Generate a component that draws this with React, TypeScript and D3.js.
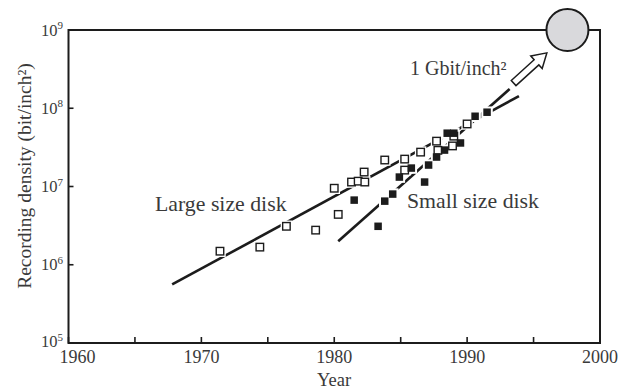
import React from "react";
import * as d3 from "d3";

const W = 628;
const H = 390;

// Axis ticks
const yearTicks = [1960, 1970, 1980, 1990, 2000];
const minorYearTicks = [1965, 1975, 1985, 1995];
const densityExponents = [5, 6, 7, 8, 9];

// Large size disk products (open squares)
const largeYears = [
  1971.4, 1974.4, 1976.4, 1978.6, 1980.0, 1980.3, 1981.3, 1981.8, 1982.3, 1982.25,
  1983.8, 1985.3, 1985.3, 1986.5, 1987.7, 1987.8, 1988.9, 1989.0, 1990.0,
];
const largeDensity = [
  1.49e6, 1.68e6, 3.1e6, 2.77e6, 9.5e6, 4.4e6, 1.14e7, 1.17e7, 1.14e7, 1.53e7,
  2.18e7, 2.24e7, 1.62e7, 2.75e7, 3.8e7, 2.9e7, 3.3e7, 4.4e7, 6.3e7,
];

// Small size disk products (filled squares)
const smallYears = [
  1981.5, 1983.3, 1983.8, 1984.4, 1984.9, 1985.8, 1986.8, 1987.1, 1987.7, 1988.3,
  1988.5, 1989.0, 1989.5, 1990.6, 1991.5,
];
const smallDensity = [
  6.7e6, 3.1e6, 6.5e6, 8.0e6, 1.32e7, 1.72e7, 1.14e7, 1.88e7, 2.38e7, 2.92e7,
  4.8e7, 4.8e7, 3.6e7, 7.9e7, 8.9e7,
];

// Trend lines
const largeTrendYears = [1967.8, 1993.9];
const largeTrendDensity = [5.6e5, 1.43e8];
const smallTrendYears = [1980.3, 1993.2];
const smallTrendDensity = [2.0e6, 1.76e8];

// 1 Gbit/inch² target and the arrow pointing at it
const targetYear = 1997.55;
const targetDensity = 1e9;
const arrowYears = [1993.5, 1996.0];
const arrowDensity = [2.1e8, 5.1e8];

const ink = "#1c1c1c";
const textInk = "#3a3a3a";
const font = "'Liberation Serif', 'Times New Roman', serif";

export default function App() {
  const x = d3.scaleLinear().domain([1960, 2000]).range([68.5, 600]);
  const y = d3.scaleLog().domain([1e5, 1e9]).range([343, 30]);

  const line = d3
    .line<[number, number]>()
    .x((d) => x(d[0]))
    .y((d) => y(d[1]));

  const largeTrend = largeTrendYears.map((t, i) => [t, largeTrendDensity[i]] as [number, number]);
  const smallTrend = smallTrendYears.map((t, i) => [t, smallTrendDensity[i]] as [number, number]);

  const ms = 7.5;
  const halo = 2;

  const large = largeYears.map((t, i) => ({ cx: x(t), cy: y(largeDensity[i]) }));
  const small = smallYears.map((t, i) => ({ cx: x(t), cy: y(smallDensity[i]) }));

  // Hollow block arrow
  const ax0 = x(arrowYears[0]);
  const ay0 = y(arrowDensity[0]);
  const ax1 = x(arrowYears[1]);
  const ay1 = y(arrowDensity[1]);
  const dx = ax1 - ax0;
  const dy = ay1 - ay0;
  const len = Math.hypot(dx, dy);
  const ux = dx / len;
  const uy = dy / len;
  const nx = -uy;
  const ny = ux;
  const shaftW = 3.5;
  const headW = 8.5;
  const headL = 14;
  const pt = (along: number, side: number) =>
    `${ax0 + ux * along + nx * side},${ay0 + uy * along + ny * side}`;
  const arrowPts = [
    pt(0, shaftW),
    pt(len - headL, shaftW),
    pt(len - headL, headW),
    pt(len, 0),
    pt(len - headL, -headW),
    pt(len - headL, -shaftW),
    pt(0, -shaftW),
  ].join(" ");

  const x0 = x(1960);
  const x1 = x(2000);
  const yTop = y(1e9);
  const yBot = y(1e5);

  return (
    <svg
      width={W}
      height={H}
      viewBox={`0 0 ${W} ${H}`}
      style={{ position: "absolute", left: 0, top: 0, background: "#fff" }}
      fontFamily={font}
    >
      <rect x={0} y={0} width={W} height={H} fill="#fff" />

      {/* frame */}
      <rect x={x0} y={yTop} width={x1 - x0} height={yBot - yTop} fill="none" stroke={ink} strokeWidth={2} />

      {/* x ticks */}
      {[...yearTicks, ...minorYearTicks].map((t) => (
        <line key={`xt${t}`} x1={x(t)} x2={x(t)} y1={yBot} y2={yBot - 6} stroke={ink} strokeWidth={1.6} />
      ))}
      {yearTicks.map((t, i) => (
        <text
          key={`xl${t}`}
          x={x(t) + (i === 0 ? 9 : 0)}
          y={363}
          textAnchor="middle"
          fontSize={18}
          fill={textInk}
        >
          {t}
        </text>
      ))}

      {/* y ticks */}
      {densityExponents.map((e, i) => (
        <g key={`yt${e}`}>
          <line x1={x0} x2={x0 + 5} y1={y(10 ** e)} y2={y(10 ** e)} stroke={ink} strokeWidth={1.6} />
          <text x={41} y={y(10 ** e) + (i === 0 ? 4 : 5.5)} fontSize={16.5} fill={textInk}>
            10
            <tspan fontSize={11} dy={-6.5}>
              {String(e)}
            </tspan>
          </text>
        </g>
      ))}

      {/* axis titles */}
      <text x={334} y={386} textAnchor="middle" fontSize={18.5} fill={textInk}>
        Year
      </text>
      <text
        transform={`translate(31,${176}) rotate(-90)`}
        textAnchor="middle"
        fontSize={19.5}
        fill={textInk}
      >
        Recording density (bit/inch²)
      </text>

      {/* trend lines */}
      <path d={line(largeTrend) ?? ""} fill="none" stroke={ink} strokeWidth={2.6} />
      <path d={line(smallTrend) ?? ""} fill="none" stroke={ink} strokeWidth={2.6} />

      {/* white halos around markers */}
      {[...large, ...small].map((p, i) => (
        <rect
          key={`h${i}`}
          x={p.cx - ms / 2 - halo}
          y={p.cy - ms / 2 - halo}
          width={ms + 2 * halo}
          height={ms + 2 * halo}
          fill="#fff"
        />
      ))}

      {/* markers */}
      {large.map((p, i) => (
        <rect
          key={`l${i}`}
          x={p.cx - ms / 2}
          y={p.cy - ms / 2}
          width={ms}
          height={ms}
          fill="#fff"
          stroke={ink}
          strokeWidth={1.4}
        />
      ))}
      {small.map((p, i) => (
        <rect key={`s${i}`} x={p.cx - ms / 2} y={p.cy - ms / 2} width={ms} height={ms} fill={ink} />
      ))}

      {/* labels */}
      <text x={155} y={211} fontSize={21.8} fill={textInk}>
        Large size disk
      </text>
      <text x={407} y={207.5} fontSize={21.8} fill={textInk}>
        Small size disk
      </text>
      <text x={410} y={75} fontSize={20} fill={textInk}>
        1 Gbit/inch²
      </text>

      {/* arrow and target */}
      <polygon points={arrowPts} fill="#fff" stroke={ink} strokeWidth={1.5} strokeLinejoin="miter" />
      <circle cx={x(targetYear)} cy={y(targetDensity)} r={21} fill="#d9d9dc" stroke={ink} strokeWidth={2} />
    </svg>
  );
}
